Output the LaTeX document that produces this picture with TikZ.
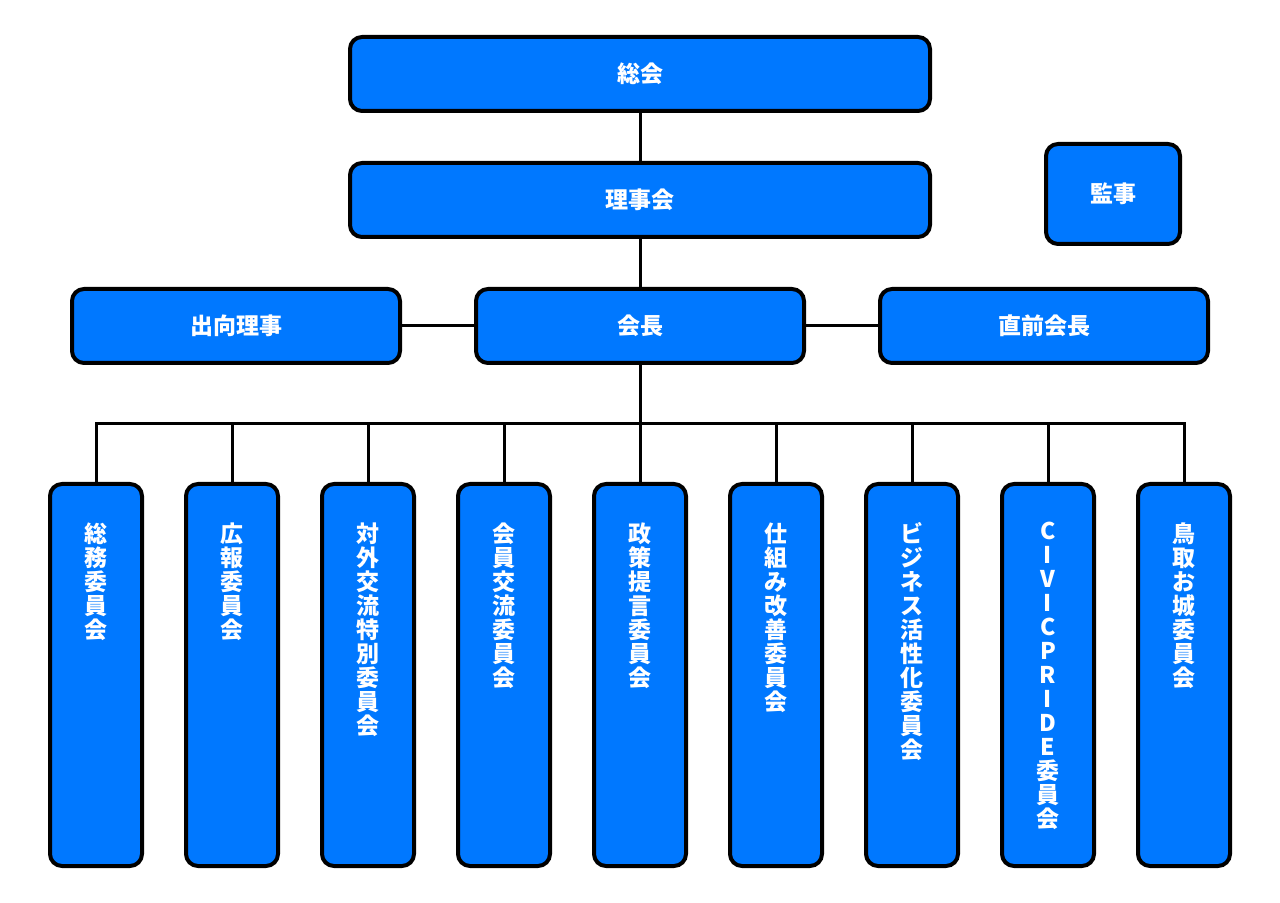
\documentclass[tikz,border=0pt]{standalone}
\usepackage{fontspec}
\setmainfont{Noto Sans CJK JP}
\usetikzlibrary{positioning}
\definecolor{boxblue}{HTML}{0078FF}

\begin{document}
\begin{tikzpicture}[x=0.5pt,y=-0.5pt]
    % Define styles
    \tikzset{
        unit/.style={rectangle, rounded corners=6pt, draw=black, line width=2pt, fill=boxblue,
            text=white, font=\bfseries\fontsize{11.5}{12}\selectfont, inner sep=0pt},
        wide/.style={unit, minimum width=290pt, minimum height=37pt},
        mid/.style={unit, minimum width=164pt, minimum height=37pt},
        committee/.style={unit, minimum width=46pt, minimum height=191pt},
        vtext/.style={anchor=north, text=white, align=center, inner sep=0pt,
            font=\bfseries\fontsize{11.5}{12}\selectfont},
        link/.style={line width=1.5pt, draw=black}
    }
    \useasboundingbox (0,0) rectangle (1280,903);

    % Top levels
    \node[wide] (soukai) at (640,74) {総会};
    \node[wide] (rijikai) at (640,200) {理事会};
    \node[unit, minimum width=67pt, minimum height=50pt] (kanji) at (1113,194) {監事};
    \node[mid] (kaicho) at (640,326) {会長};
    \node[mid, left=36pt of kaicho] (shukko) {出向理事};
    \node[mid, right=36pt of kaicho] (chokuzen) {直前会長};

    % Committees
    \node[committee] (c1) at (96,675) {};
    \node[committee] (c2) at (232,675) {};
    \node[committee] (c3) at (368,675) {};
    \node[committee] (c4) at (504,675) {};
    \node[committee] (c5) at (640,675) {};
    \node[committee] (c6) at (776,675) {};
    \node[committee] (c7) at (912,675) {};
    \node[committee] (c8) at (1048,675) {};
    \node[committee] (c9) at (1184,675) {};

    \node[vtext, below=20pt of c1.north] {総\\務\\委\\員\\会};
    \node[vtext, below=20pt of c2.north] {広\\報\\委\\員\\会};
    \node[vtext, below=20pt of c3.north] {対\\外\\交\\流\\特\\別\\委\\員\\会};
    \node[vtext, below=20pt of c4.north] {会\\員\\交\\流\\委\\員\\会};
    \node[vtext, below=20pt of c5.north] {政\\策\\提\\言\\委\\員\\会};
    \node[vtext, below=20pt of c6.north] {仕\\組\\み\\改\\善\\委\\員\\会};
    \node[vtext, below=20pt of c7.north] {ビ\\ジ\\ネ\\ス\\活\\性\\化\\委\\員\\会};
    \node[vtext, below=20pt of c8.north] {C\\I\\V\\I\\C\\P\\R\\I\\D\\E\\委\\員\\会};
    \node[vtext, below=20pt of c9.north] {鳥\\取\\お\\城\\委\\員\\会};

    % Connections
    \coordinate (bus) at (640,424);
    \draw[link] (soukai) -- (rijikai);
    \draw[link] (rijikai) -- (kaicho);
    \draw[link] (shukko) -- (kaicho);
    \draw[link] (kaicho) -- (chokuzen);
    \draw[link] (kaicho) -- (bus);
    \draw[link] (c1.north) |- (bus) -| (c9.north);
    \foreach \c in {c2,c3,c4,c5,c6,c7,c8}
        \draw[link] (\c.north) -- (\c.north |- bus);
\end{tikzpicture}
\end{document}
